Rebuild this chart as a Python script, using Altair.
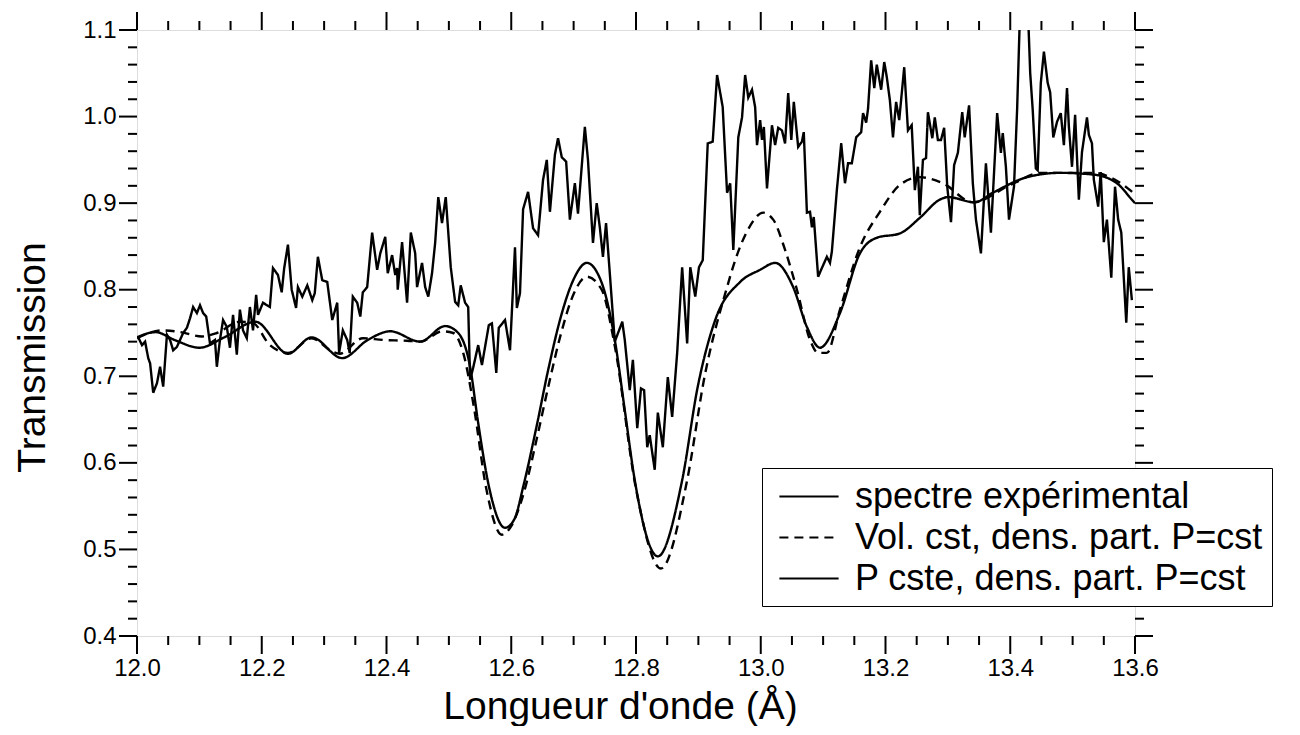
import altair as alt
import pandas as pd

# ---------------- data ----------------
S_EXP = "spectre expérimental"
S_VOL = "Vol. cst, dens. part. P=cst"
S_PC = "P cste, dens. part. P=cst"

exp_x = [12.002, 12.008, 12.013, 12.018, 12.021, 12.026, 12.032, 12.037, 12.042, 12.048,
         12.053, 12.058, 12.064, 12.074, 12.080, 12.085, 12.090, 12.096, 12.101, 12.106,
         12.111, 12.117, 12.125, 12.128, 12.133, 12.138, 12.144, 12.149, 12.154, 12.160,
         12.165, 12.170, 12.176, 12.181, 12.186, 12.191, 12.194, 12.202, 12.213, 12.218,
         12.226, 12.232, 12.236, 12.242, 12.248, 12.255, 12.258, 12.265, 12.273, 12.281,
         12.285, 12.290, 12.297, 12.305, 12.313, 12.321, 12.324, 12.330, 12.337, 12.341,
         12.346, 12.353, 12.358, 12.362, 12.369, 12.377, 12.385, 12.390, 12.398, 12.402,
         12.409, 12.414, 12.417, 12.418, 12.425, 12.433, 12.439, 12.446, 12.449, 12.457,
         12.462, 12.467, 12.473, 12.478, 12.483, 12.489, 12.495, 12.503, 12.510, 12.515,
         12.519, 12.526, 12.531, 12.534, 12.539, 12.547, 12.553, 12.564, 12.569, 12.576,
         12.580, 12.590, 12.598, 12.606, 12.609, 12.614, 12.619, 12.627, 12.635, 12.643,
         12.651, 12.657, 12.662, 12.670, 12.675, 12.681, 12.688, 12.694, 12.702, 12.707,
         12.718, 12.723, 12.731, 12.737, 12.742, 12.747, 12.752, 12.758, 12.766, 12.778,
         12.782, 12.790, 12.795, 12.802, 12.808, 12.813, 12.818, 12.822, 12.830, 12.835,
         12.843, 12.851, 12.858, 12.866, 12.874, 12.882, 12.887, 12.895, 12.901, 12.907,
         12.915, 12.923, 12.930, 12.939, 12.946, 12.951, 12.956, 12.964, 12.970, 12.975,
         12.980, 12.986, 12.991, 12.994, 12.999, 13.002, 13.005, 13.010, 13.018, 13.023,
         13.028, 13.034, 13.039, 13.044, 13.049, 13.053, 13.060, 13.066, 13.069, 13.074,
         13.079, 13.082, 13.085, 13.092, 13.098, 13.106, 13.111, 13.114, 13.122, 13.129,
         13.135, 13.140, 13.146, 13.153, 13.161, 13.164, 13.169, 13.172, 13.177, 13.182,
         13.186, 13.193, 13.198, 13.202, 13.207, 13.212, 13.217, 13.222, 13.230, 13.236,
         13.242, 13.247, 13.252, 13.255, 13.260, 13.265, 13.268, 13.275, 13.279, 13.284,
         13.289, 13.294, 13.299, 13.305, 13.310, 13.316, 13.323, 13.327, 13.334, 13.340,
         13.345, 13.353, 13.361, 13.369, 13.379, 13.385, 13.388, 13.393, 13.398, 13.406,
         13.411, 13.416, 13.428, 13.432, 13.436, 13.441, 13.444, 13.449, 13.454, 13.460,
         13.464, 13.469, 13.475, 13.481, 13.486, 13.491, 13.494, 13.499, 13.504, 13.510,
         13.515, 13.523, 13.526, 13.531, 13.534, 13.541, 13.545, 13.550, 13.555, 13.562,
         13.568, 13.573, 13.578, 13.586, 13.590, 13.595]
exp_y = [0.745, 0.736, 0.740, 0.721, 0.715, 0.681, 0.692, 0.711, 0.688, 0.748,
         0.742, 0.730, 0.734, 0.750, 0.756, 0.767, 0.780, 0.773, 0.782, 0.773,
         0.769, 0.738, 0.742, 0.711, 0.742, 0.765, 0.757, 0.733, 0.771, 0.725,
         0.777, 0.753, 0.744, 0.780, 0.753, 0.794, 0.771, 0.785, 0.780, 0.825,
         0.817, 0.797, 0.825, 0.852, 0.800, 0.779, 0.803, 0.792, 0.805, 0.788,
         0.796, 0.838, 0.811, 0.809, 0.765, 0.785, 0.727, 0.753, 0.742, 0.727,
         0.792, 0.785, 0.769, 0.797, 0.803, 0.866, 0.823, 0.842, 0.861, 0.819,
         0.840, 0.817, 0.825, 0.800, 0.855, 0.785, 0.866, 0.842, 0.803, 0.831,
         0.803, 0.792, 0.819, 0.854, 0.907, 0.877, 0.907, 0.826, 0.786, 0.782,
         0.805, 0.785, 0.780, 0.696, 0.710, 0.736, 0.713, 0.759, 0.761, 0.704,
         0.756, 0.765, 0.730, 0.849, 0.779, 0.796, 0.893, 0.913, 0.871, 0.863,
         0.927, 0.950, 0.890, 0.956, 0.975, 0.953, 0.948, 0.881, 0.923, 0.888,
         0.988, 0.950, 0.854, 0.900, 0.872, 0.838, 0.877, 0.819, 0.740, 0.763,
         0.742, 0.684, 0.719, 0.640, 0.686, 0.684, 0.618, 0.632, 0.592, 0.658,
         0.618, 0.699, 0.653, 0.727, 0.826, 0.738, 0.826, 0.792, 0.826, 0.834,
         0.969, 0.971, 1.048, 1.011, 0.912, 0.923, 0.846, 0.976, 0.999, 1.048,
         1.022, 1.031, 1.011, 0.967, 0.996, 0.973, 0.988, 0.917, 0.990, 0.967,
         0.987, 0.984, 0.969, 1.027, 0.973, 1.017, 0.965, 0.971, 0.982, 0.889,
         0.890, 0.872, 0.884, 0.815, 0.825, 0.838, 0.831, 0.844, 0.915, 0.969,
         0.923, 0.946, 0.946, 0.976, 0.982, 1.004, 0.993, 1.009, 1.065, 1.033,
         1.060, 1.031, 1.063, 1.046, 1.019, 0.976, 1.017, 0.996, 1.057, 0.984,
         0.990, 0.915, 0.942, 0.886, 0.950, 0.952, 1.005, 0.975, 0.999, 0.973,
         0.973, 0.987, 0.919, 0.878, 0.944, 0.958, 1.005, 0.976, 1.013, 0.923,
         0.881, 0.842, 0.946, 0.866, 1.004, 0.958, 0.981, 0.942, 0.881, 0.919,
         1.008, 1.130, 1.130, 1.050, 1.008, 0.940, 0.938, 1.039, 1.075, 1.039,
         1.028, 0.976, 0.994, 1.004, 0.967, 1.033, 0.988, 0.942, 1.002, 0.904,
         0.959, 0.999, 0.979, 0.969, 0.927, 0.896, 0.936, 0.855, 0.881, 0.814,
         0.919, 0.881, 0.866, 0.762, 0.826, 0.788]

vol_x = [12.000, 12.040, 12.070, 12.104, 12.128, 12.165, 12.185, 12.213, 12.242, 12.280,
         12.310, 12.325, 12.362, 12.394, 12.433, 12.454, 12.490, 12.507, 12.523, 12.540,
         12.560, 12.585, 12.600, 12.620, 12.640, 12.660, 12.680, 12.700, 12.721, 12.745,
         12.766, 12.800, 12.840, 12.882, 12.910, 12.946, 12.959, 12.980, 13.004, 13.020,
         13.039, 13.058, 13.079, 13.092, 13.106, 13.127, 13.159, 13.191, 13.223, 13.255,
         13.292, 13.340, 13.400, 13.450, 13.533, 13.568, 13.592, 13.600]
vol_y = [0.744, 0.753, 0.751, 0.746, 0.750, 0.763, 0.762, 0.736, 0.727, 0.744,
         0.730, 0.726, 0.744, 0.742, 0.741, 0.740, 0.752, 0.750, 0.727, 0.665,
         0.570, 0.517, 0.527, 0.565, 0.625, 0.690, 0.750, 0.795, 0.815, 0.800,
         0.735, 0.570, 0.478, 0.580, 0.700, 0.803, 0.834, 0.870, 0.889, 0.881,
         0.846, 0.800, 0.742, 0.727, 0.727, 0.777, 0.849, 0.890, 0.921, 0.930,
         0.923, 0.901, 0.921, 0.935, 0.935, 0.927, 0.915, 0.910]

pc_x = [12.000, 12.030, 12.060, 12.100, 12.140, 12.190, 12.242, 12.280, 12.329, 12.370,
        12.406, 12.454, 12.494, 12.515, 12.534, 12.547, 12.565, 12.590, 12.605, 12.620,
        12.640, 12.660, 12.680, 12.700, 12.721, 12.745, 12.766, 12.782, 12.798, 12.835,
        12.874, 12.899, 12.927, 12.967, 12.999, 13.023, 13.052, 13.074, 13.095, 13.127,
        13.159, 13.186, 13.223, 13.255, 13.287, 13.300, 13.343, 13.372, 13.427, 13.480,
        13.533, 13.571, 13.595, 13.600]
pc_y = [0.745, 0.751, 0.742, 0.733, 0.745, 0.763, 0.726, 0.745, 0.721, 0.742,
        0.752, 0.740, 0.758, 0.750, 0.711, 0.646, 0.570, 0.525, 0.535, 0.575,
        0.640, 0.710, 0.770, 0.812, 0.831, 0.808, 0.742, 0.661, 0.580, 0.492,
        0.580, 0.688, 0.765, 0.809, 0.823, 0.831, 0.803, 0.757, 0.733, 0.773,
        0.842, 0.860, 0.865, 0.883, 0.904, 0.907, 0.901, 0.912, 0.930, 0.935,
        0.933, 0.923, 0.904, 0.900]

x_major = [12.0, 12.2, 12.4, 12.6, 12.8, 13.0, 13.2, 13.4, 13.6]
x_minor = [12.05, 12.1, 12.15, 12.25, 12.3, 12.35, 12.45, 12.5, 12.55, 12.65, 12.7, 12.75,
           12.85, 12.9, 12.95, 13.05, 13.1, 13.15, 13.25, 13.3, 13.35, 13.45, 13.5, 13.55]
y_major = [0.4, 0.5, 0.6, 0.7, 0.8, 0.9, 1.0, 1.1]
y_minor = [0.42, 0.44, 0.46, 0.48, 0.52, 0.54, 0.56, 0.58, 0.62, 0.64, 0.66, 0.68,
           0.72, 0.74, 0.76, 0.78, 0.82, 0.84, 0.86, 0.88, 0.92, 0.94, 0.96, 0.98,
           1.02, 1.04, 1.06, 1.08]

# ---------------- build ----------------
W, H = 998, 606
FONT = "Liberation Sans"
MAJ, MIN = 18, 9
LW = 2.4
DOMAIN = [S_EXP, S_VOL, S_PC]

def frame(names, xs_, ys_):
    rows = []
    for name, a_, b_ in zip(names, xs_, ys_):
        for i, (a, b) in enumerate(zip(a_, b_)):
            rows.append({"x": a, "y": b, "s": name, "i": i})
    return pd.DataFrame(rows)

df_exp = frame([S_EXP], [exp_x], [exp_y])
df_mod = frame([S_VOL, S_PC], [vol_x, pc_x], [vol_y, pc_y])

xs = alt.Scale(domain=[12.0, 13.6], nice=False, zero=False)
ys = alt.Scale(domain=[0.4, 1.1], nice=False, zero=False)

x_axis = alt.Axis(
    values=x_major, format=".1f", ticks=False, domain=False, grid=False,
    labelFont=FONT, labelFontSize=24, labelColor="black", labelPadding=20,
    labelFlush=False, labelOverlap=False,
    title="Longueur d'onde (Å)", titleFont=FONT, titleFontSize=39,
    titleFontWeight="normal", titleColor="black",
    titleX=483, titleY=82, titleBaseline="alphabetic")
y_axis = alt.Axis(
    values=y_major, format=".1f", ticks=False, domain=False, grid=False,
    labelFont=FONT, labelFontSize=24, labelColor="black", labelPadding=21,
    labelFlush=False, labelOverlap=False,
    title="Transmission", titleFont=FONT, titleFontSize=39,
    titleFontWeight="normal", titleColor="black",
    titleX=-93, titleY=327, titleBaseline="alphabetic")

dash = alt.StrokeDash("s:N", scale=alt.Scale(domain=DOMAIN, range=[[1, 0], [9, 6], [1, 0]]),
    legend=alt.Legend(
        title=None, orient="none", legendX=625, legendY=438, direction="vertical",
        strokeColor="black", fillColor="white", padding=9,
        labelFont=FONT, labelFontSize=36, labelColor="black", labelOffset=45,
        labelLimit=1000, symbolType="M-0.6,0H2.6", symbolSize=1369,
        symbolStrokeWidth=2, symbolStrokeColor="black",
        symbolFillColor="transparent", rowPadding=3))

exp_line = alt.Chart(df_exp).mark_line(strokeWidth=LW, color="black", clip=True).encode(
    x=alt.X("x:Q", scale=xs, axis=x_axis),
    y=alt.Y("y:Q", scale=ys, axis=y_axis),
    strokeDash=dash, order="i:Q")

mod_lines = alt.Chart(df_mod).mark_line(strokeWidth=LW, color="black", clip=True,
                                        interpolate="monotone").encode(
    x=alt.X("x:Q", scale=xs), y=alt.Y("y:Q", scale=ys),
    strokeDash=dash, order="i:Q")

def xticks(vals, y0, y1):
    return alt.Chart(pd.DataFrame({"x": vals})).mark_rule(
        strokeWidth=2, color="black").encode(
        x=alt.X("x:Q", scale=xs), y=alt.value(y0), y2=alt.value(y1))

def yticks(vals, x0, x1):
    return alt.Chart(pd.DataFrame({"y": vals})).mark_rule(
        strokeWidth=2, color="black").encode(
        y=alt.Y("y:Q", scale=ys), x=alt.value(x0), x2=alt.value(x1))

tick_layers = [
    xticks(x_major, H, H + MAJ), xticks(x_minor, H, H + MIN),
    xticks(x_major, 0, -MAJ), xticks(x_minor, 0, -MIN),
    yticks(y_major, 0, -MAJ), yticks(y_minor, 0, -MIN),
    yticks(y_major, W, W + MAJ), yticks(y_minor, W, W + MIN),
]

chart = alt.layer(exp_line, mod_lines, *tick_layers).properties(
    width=W, height=H,
    autosize=alt.AutoSizeParams(type="none"),
    padding={"left": 129, "top": 22, "right": 150, "bottom": 90},
).configure_view(stroke="black", strokeWidth=2).configure(background="white")

chart.save("out.html", embed_options={"renderer": "svg", "actions": False})
